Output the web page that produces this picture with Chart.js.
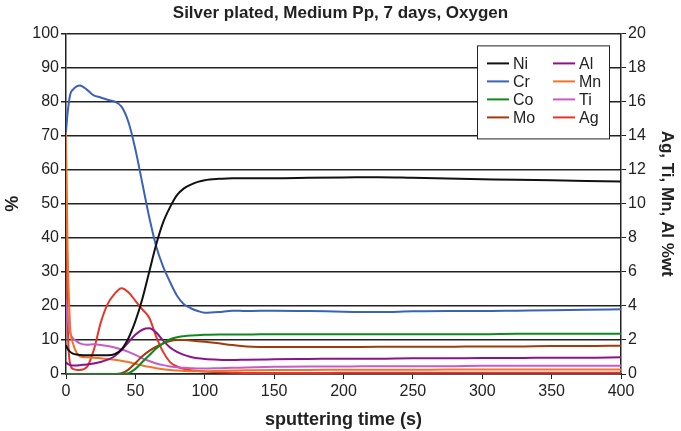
<!DOCTYPE html>
<html lang="en">
<head>
  <meta charset="UTF-8" />
  <title>Silver plated, Medium Pp, 7 days, Oxygen</title>
  <script src="https://cdn.jsdelivr.net/npm/chart.js"></script>
  <style>
    body { margin: 0; padding: 0; background: #fff; }
    .wrap { width: 681px; height: 431px; position: relative; }
  </style>
</head>
<body>
  <div class="wrap"><canvas id="plot"></canvas></div>
  <script>
    // sputtering time (s)
    const times = [0, 1, 3, 5, 8, 10, 15, 20, 25, 30, 35, 40, 45, 50, 55, 60, 65, 70, 75, 80, 85, 90, 95, 100,
      110, 120, 130, 150, 175, 200, 225, 250, 275, 300, 325, 350, 375, 400];

    // left axis (%)
    const ni = [8.5, 7.5, 6.5, 6, 5.7, 5.6, 5.5, 5.5, 5.5, 5.5, 5.8, 7.2, 10.5, 15.5, 22, 30, 38, 44.5, 49, 52.5, 54.5, 55.6, 56.4, 56.9,
      57.3, 57.5, 57.5, 57.5, 57.6, 57.7, 57.8, 57.6, 57.4, 57.2, 57, 56.9, 56.7, 56.5];
    const cr = [71, 76, 82, 83.5, 84.5, 84.7, 83.5, 81.8, 81.2, 80.5, 80, 78.5, 74, 66, 56, 46, 37.5, 31.5, 27, 23, 20.5, 19.3, 18.5, 18,
      18.2, 18.6, 18.5, 18.6, 18.5, 18.3, 18.2, 18.4, 18.5, 18.5, 18.6, 18.7, 18.9, 19];
    const co = [0, 0, 0, 0, 0, 0, 0, 0, 0, 0, 0, 0, 0.2, 1.5, 3.5, 5.5, 7.5, 9, 10.2, 10.8, 11.1, 11.3, 11.4, 11.5,
      11.6, 11.6, 11.6, 11.7, 11.7, 11.7, 11.7, 11.7, 11.7, 11.7, 11.8, 11.8, 11.8, 11.8];
    const mo = [0, 0, 0, 0, 0, 0, 0, 0, 0, 0, 0, 0.2, 1.3, 3.2, 5.2, 6.8, 8, 9, 9.7, 10, 10, 9.8, 9.6, 9.5,
      9, 8.5, 8.1, 7.9, 7.9, 7.9, 8, 8, 8, 8.1, 8.1, 8.2, 8.2, 8.3];

    // right axis (Ag, Ti, Mn, Al %wt)
    const al = [0.7, 0.6, 0.52, 0.5, 0.5, 0.52, 0.56, 0.62, 0.7, 0.84, 1.04, 1.4, 1.86, 2.3, 2.6, 2.68, 2.44, 1.96, 1.56, 1.3, 1.12, 1, 0.92, 0.88,
      0.84, 0.82, 0.84, 0.86, 0.88, 0.9, 0.9, 0.92, 0.92, 0.94, 0.94, 0.96, 0.96, 0.98];
    const mn = [14.2, 8, 2.8, 1.8, 1.2, 1.04, 0.98, 0.96, 0.92, 0.88, 0.84, 0.78, 0.7, 0.6, 0.5, 0.42, 0.34, 0.28, 0.24, 0.2, 0.18, 0.16, 0.16, 0.16,
      0.18, 0.2, 0.22, 0.24, 0.24, 0.25, 0.25, 0.25, 0.26, 0.26, 0.26, 0.26, 0.26, 0.26];
    const ti = [4.4, 3.4, 2.4, 2.1, 1.9, 1.8, 1.72, 1.74, 1.7, 1.64, 1.56, 1.44, 1.3, 1.12, 0.92, 0.76, 0.62, 0.52, 0.44, 0.4, 0.36, 0.34, 0.32, 0.32,
      0.34, 0.36, 0.38, 0.42, 0.44, 0.44, 0.46, 0.46, 0.46, 0.48, 0.48, 0.48, 0.48, 0.48];
    const ag = [13, 4, 0.6, 0.3, 0.24, 0.24, 0.4, 1.4, 3, 4.1, 4.7, 5.04, 4.8, 4.3, 3.8, 3.3, 2.2, 1.3, 0.7, 0.44, 0.3, 0.22, 0.18, 0.14,
      0.1, 0.08, 0.06, 0.06, 0.06, 0.07, 0.07, 0.07, 0.08, 0.08, 0.08, 0.08, 0.08, 0.08];

    const xTicks = [0, 50, 100, 150, 200, 250, 300, 350, 400];

    const FONT = "'Liberation Sans', Arial, sans-serif";

    function series(label, values, color, axis) {
      return {
        label: label,
        data: times.map((t, i) => ({ x: t, y: values[i] })),
        borderColor: color,
        backgroundColor: color,
        borderWidth: 2,
        pointRadius: 0,
        cubicInterpolationMode: "monotone",
        yAxisID: axis
      };
    }

    // legend box drawn inside the plot, two columns
    const boxLegend = {
      id: "boxLegend",
      afterDatasetsDraw(chart) {
        const c = chart.ctx;
        const a = chart.chartArea;
        const left = a.right - 144, top = a.top + 12, w = 132, h = 93;
        c.save();
        c.fillStyle = "#fff";
        c.fillRect(left, top, w, h);
        c.strokeStyle = "#222";
        c.lineWidth = 1;
        c.strokeRect(left + 0.5, top + 0.5, w, h);
        c.font = "16px " + FONT;
        c.textBaseline = "middle";
        chart.data.datasets.forEach((ds, i) => {
          const col = Math.floor(i / 4), row = i % 4;
          const lx = left + 10 + col * 66;
          const ly = top + 18 + row * 18;
          c.strokeStyle = ds.borderColor;
          c.lineWidth = 2;
          c.beginPath();
          c.moveTo(lx, ly);
          c.lineTo(lx + 22, ly);
          c.stroke();
          c.fillStyle = "#222";
          c.fillText(ds.label, lx + 26, ly + 1);
        });
        c.restore();
      }
    };

    new Chart(document.getElementById("plot"), {
      type: "line",
      data: {
        datasets: [
          series("Ni", ni, "#111111", "y"),
          series("Cr", cr, "#3a62b8", "y"),
          series("Co", co, "#0d8a1e", "y"),
          series("Mo", mo, "#a33a0c", "y"),
          series("Al", al, "#8a148a", "y1"),
          series("Mn", mn, "#f07428", "y1"),
          series("Ti", ti, "#c95ac8", "y1"),
          series("Ag", ag, "#e8352a", "y1")
        ]
      },
      options: {
        responsive: true,
        maintainAspectRatio: false,
        animation: false,
        layout: { padding: { left: 0, right: 0, top: 0, bottom: 0 } },
        plugins: {
          legend: { display: false },
          tooltip: { enabled: false },
          title: {
            display: true,
            text: "Silver plated, Medium Pp, 7 days, Oxygen",
            color: "#222",
            font: { family: FONT, size: 17, weight: "bold" },
            padding: { top: 3, bottom: 10 }
          }
        },
        scales: {
          x: {
            type: "linear",
            min: 0,
            max: 400,
            afterBuildTicks: s => { s.ticks = xTicks.map(v => ({ value: v })); },
            afterFit: s => { s.height = 57; },
            grid: { drawOnChartArea: false, color: "#222", tickLength: 5, lineWidth: 1 },
            border: { color: "#222", width: 1.5 },
            ticks: { color: "#222", font: { family: FONT, size: 16 }, padding: 3, maxRotation: 0 },
            title: {
              display: true,
              text: "sputtering time (s)",
              color: "#222",
              font: { family: FONT, size: 18, weight: "bold" },
              padding: { top: 4, bottom: 0 }
            }
          },
          y: {
            position: "left",
            min: 0,
            max: 100,
            ticks: { stepSize: 10, color: "#222", font: { family: FONT, size: 16 }, padding: 2 },
            afterFit: s => { s.width = 66; },
            grid: { color: "#222", lineWidth: 1.5, tickLength: 5 },
            border: { color: "#222", width: 1.5 },
            title: {
              display: true,
              text: "%",
              color: "#222",
              font: { family: FONT, size: 18, weight: "bold" },
              padding: { top: 2, bottom: 2 }
            }
          },
          y1: {
            position: "right",
            min: 0,
            max: 20,
            ticks: { stepSize: 2, color: "#222", font: { family: FONT, size: 16 }, padding: 2 },
            afterFit: s => { s.width = 60; },
            grid: { drawOnChartArea: false, color: "#222", tickLength: 5 },
            border: { color: "#222", width: 1.5 },
            title: {
              display: true,
              text: "Ag, Ti, Mn, Al %wt",
              color: "#222",
              font: { family: FONT, size: 17, weight: "bold" },
              padding: { top: 4, bottom: 0 }
            }
          }
        }
      },
      plugins: [boxLegend]
    });
  </script>
</body>
</html>
